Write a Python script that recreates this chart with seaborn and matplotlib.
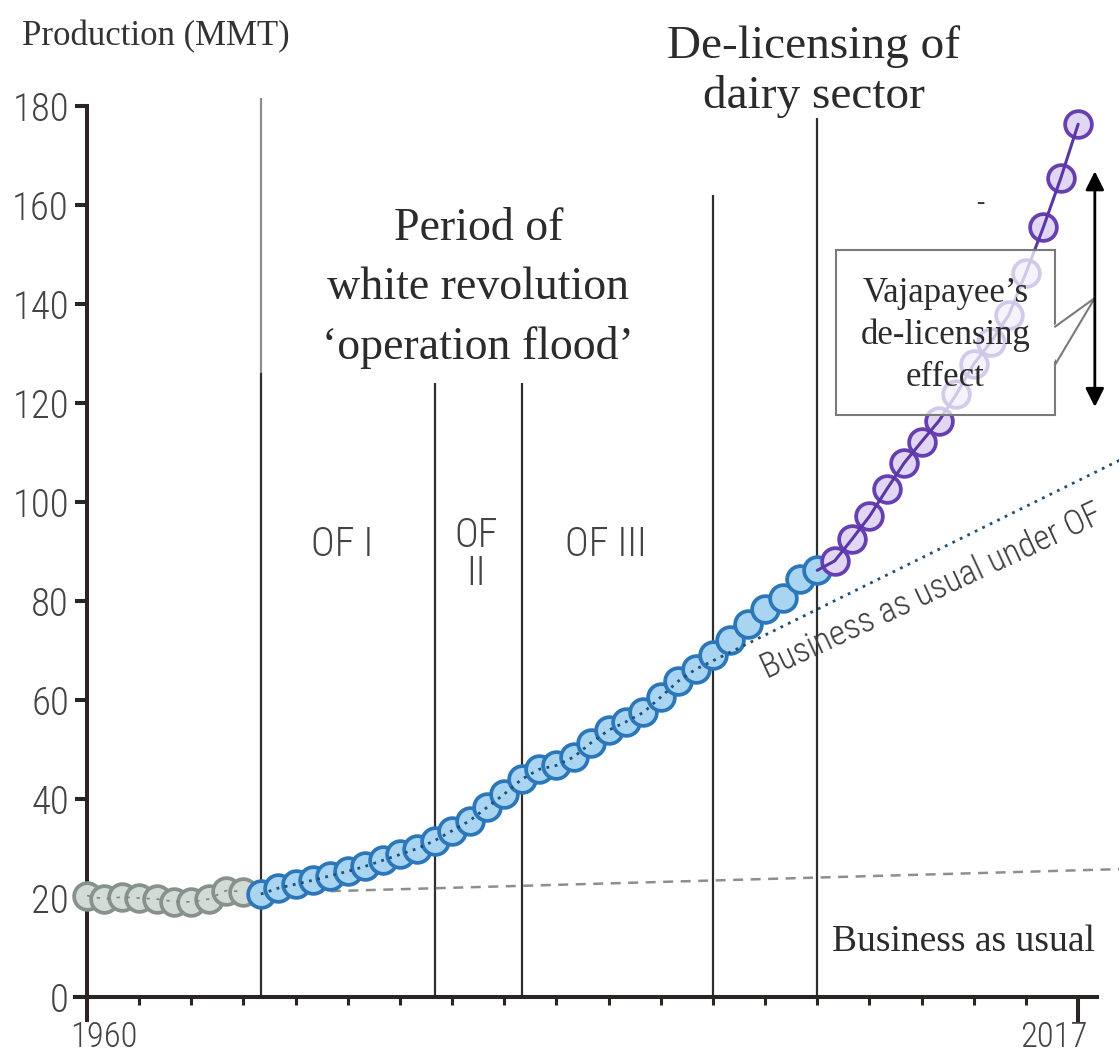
import matplotlib
matplotlib.use("Agg")
import matplotlib.pyplot as plt
import matplotlib.transforms as mtransforms
from matplotlib import font_manager
from matplotlib.patches import Rectangle, Polygon
import numpy as np
import pandas as pd
import seaborn as sns

# milk production, million metric tonnes
pre_years = list(range(1960, 1970))
pre_values = [20.5, 19.8, 20.2, 20.0, 19.8, 19.3, 19.2, 19.8, 21.5, 21.3]

of_years = list(range(1970, 2003))
of_values = [20.8, 22.0, 22.8, 23.6, 24.5, 25.4, 26.4, 27.6, 28.8, 30.0,
             31.6, 33.6, 35.6, 38.3, 41.0, 44.0, 46.0, 46.8, 48.5, 51.4,
             53.9, 55.6, 57.5, 60.6, 63.8, 66.2, 69.1, 72.1, 75.4, 78.3,
             80.6, 84.4, 86.2]

dl_years = list(range(2002, 2018))
dl_values = [86.2, 88.1, 92.5, 97.1, 102.6, 107.9, 112.2, 116.4, 121.8,
             127.9, 132.4, 137.7, 146.3, 155.5, 165.4, 176.3]

# projections
bau_years = [1970, 2020]
bau_values = [21.0, 25.9]
bau_of_years = [1995, 2020]
bau_of_values = [66.2, 109.5]

# period boundaries
period_years = [1970, 1980, 1985, 1996, 2002]
period_tops = [126, 124, 124, 162, 177.6]

y_ticks = list(range(0, 181, 20))
x_labels = ["1960", "2017"]

SERIF = ["Liberation Serif", "DejaVu Serif"]
AXIS = "#2a2422"

# pick a condensed sans if one is installed
_names = {f.name for f in font_manager.fontManager.ttflist}
_cond = [n for n in ["Roboto Condensed", "Liberation Sans Narrow", "Open Sans Condensed",
                     "Noto Sans Condensed"] if n in _names]
if _cond:
    NARROW = [_cond[0], "DejaVu Sans"]
    NS = 1.0
else:
    NARROW = ["Liberation Sans", "DejaVu Sans"]
    NS = 0.8

sns.set_style("ticks")
plt.rcParams["font.family"] = NARROW
plt.rcParams["font.weight"] = "light"

pre_df = pd.DataFrame({"year": pre_years, "mmt": pre_values})
of_df = pd.DataFrame({"year": of_years, "mmt": of_values})
dl_df = pd.DataFrame({"year": dl_years, "mmt": dl_values})
of_line = pd.DataFrame({"year": of_years[:26] + bau_of_years[1:],
                        "mmt": of_values[:26] + bau_of_values[1:]})

fig = plt.figure(figsize=(11.19, 10.53), dpi=100)
ax = fig.add_axes([0, 0, 1, 1])

# period separators
ax.vlines(period_years, 0, period_tops, colors="#2e2e2e", lw=1.6, zorder=2)
ax.vlines(period_years[0], period_tops[0], 181.6, colors="#8d8d8d", lw=1.6, zorder=2)

# business as usual
sns.lineplot(x=bau_years, y=bau_values, ax=ax, color="#8a9090", lw=1.8, zorder=3)
ax.lines[-1].set_dashes((4, 3))

MS = 370
MEW = 2.7

# pre-OF markers
sns.lineplot(data=pre_df, x="year", y="mmt", ax=ax, color="#7d8781", lw=1.2, zorder=5)
ax.lines[-1].set_dashes((2, 4))
sns.scatterplot(data=pre_df, x="year", y="mmt", ax=ax, s=MS, color="#d3dbd6",
                edgecolor="#87928b", linewidth=MEW, zorder=4)

# operation flood markers + business as usual under OF
sns.scatterplot(data=of_df, x="year", y="mmt", ax=ax, s=MS, color="#a9d5f2",
                edgecolor="#2b77ba", linewidth=MEW, zorder=4)
sns.lineplot(data=of_line, x="year", y="mmt", ax=ax, color="#1f4f72", lw=2.0, zorder=5)
ax.lines[-1].set_dashes((1, 2))

# de-licensing markers
sns.lineplot(data=dl_df, x="year", y="mmt", ax=ax, color="#5a36a6", lw=2.2, zorder=5)
sns.scatterplot(data=dl_df.iloc[1:], x="year", y="mmt", ax=ax, s=MS, color="#e2d6f5",
                edgecolor="#6640b0", linewidth=MEW, zorder=4)

# axes styling
ax.set_xlim(1955.0, 2019.35)
ax.set_ylim(-11.3, 201.4)
ax.set_xlabel("")
ax.set_ylabel("")
ax.patch.set_alpha(0)
for side in ["top", "right"]:
    ax.spines[side].set_visible(False)
ax.spines["left"].set_position(("data", 1960))
ax.spines["bottom"].set_position(("data", 0))
ax.spines["left"].set_bounds(0, 180)
ax.spines["bottom"].set_bounds(1959.3, 2018.1)
for side in ["left", "bottom"]:
    ax.spines[side].set_linewidth(2.9)
    ax.spines[side].set_color(AXIS)

ax.set_yticks(y_ticks)
ax.set_yticklabels([str(v) for v in y_ticks])
ax.tick_params(axis="y", length=9, width=2.9, color=AXIS, pad=4,
               labelsize=28 * NS, labelcolor="#444444")
ax.set_xticks([1960, 2017])
ax.set_xticklabels(x_labels)
ax.set_xticks(np.arange(1960, 2018, 3), minor=True)
ax.tick_params(axis="x", which="major", length=18, width=2.9, color=AXIS, pad=-1,
               labelsize=25 * NS, labelcolor="#444444")
ax.tick_params(axis="x", which="minor", length=6, width=2.2, color=AXIS)
for lab, dx in zip(ax.get_xticklabels(), [17, -24]):
    lab.set_transform(lab.get_transform() +
                      mtransforms.ScaledTranslation(dx / 100, 0, fig.dpi_scale_trans))

# annotations
ax.text(1956.27, 194.0, "Production (MMT)", family=SERIF, fontsize=25,
        weight="normal", color="#333333", ha="left", va="center")
ax.text(2001.8, 186.9, "De-licensing of\ndairy sector", family=SERIF, fontsize=34,
        weight="normal", color="#2b2b2b", ha="center", va="center", linespacing=1.2)
ax.text(1982.5, 143.2, "Period of\nwhite revolution\n\u2018operation flood\u2019",
        family=SERIF, fontsize=33, weight="normal", color="#2b2b2b", ha="center",
        va="center", linespacing=1.5)
ax.text(1974.7, 91.3, "OF I", fontsize=29 * NS, color="#444444", ha="center", va="center")
ax.text(1982.4, 89.3, "OF\nII", fontsize=29 * NS, color="#444444", ha="center",
        va="center", linespacing=1.0)
ax.text(1989.85, 91.3, "OF III", fontsize=29 * NS, color="#444444", ha="center",
        va="center")
ax.text(2008.6, 82.0, "Business as usual under OF", fontsize=25 * NS, color="#3f3f3f",
        ha="center", va="center", rotation=25, rotation_mode="anchor")
ax.text(2010.4, 11.2, "Business as usual", family=SERIF, fontsize=27,
        weight="normal", color="#2b2b2b", ha="center", va="center")

# callout box
ax.add_patch(Rectangle((2003.07, 117.6), 12.6, 33.3, facecolor="white", alpha=0.72,
                       edgecolor="none", zorder=6))
ax.add_patch(Rectangle((2003.07, 117.6), 12.6, 33.3, facecolor="none",
                       edgecolor="#7a7a7a", lw=1.5, zorder=6))
ax.add_patch(Polygon([(2015.5, 135.4), (2017.96, 141.2), (2015.5, 127.7)],
                     closed=True, facecolor="white", edgecolor="none", zorder=7))
ax.plot([2015.67, 2017.96, 2015.67], [135.4, 141.2, 127.7], color="#7a7a7a",
        lw=1.5, zorder=8)
ax.text(2009.37, 133.7, "Vajapayee\u2019s\nde-licensing\neffect", family=SERIF,
        fontsize=25, weight="normal", color="#2b2b2b", ha="center", va="center",
        linespacing=1.35, zorder=9)
ax.text(2011.35, 160.4, "-", family=SERIF, fontsize=18, weight="normal",
        color="#333333", ha="center", va="center")
ax.annotate("", xy=(2017.96, 166.8), xytext=(2017.96, 119.2),
            arrowprops=dict(arrowstyle="<|-|>", color="black", lw=2.0,
                            mutation_scale=28, shrinkA=0, shrinkB=0), zorder=9)

fig.savefig("out.png", dpi=100)
